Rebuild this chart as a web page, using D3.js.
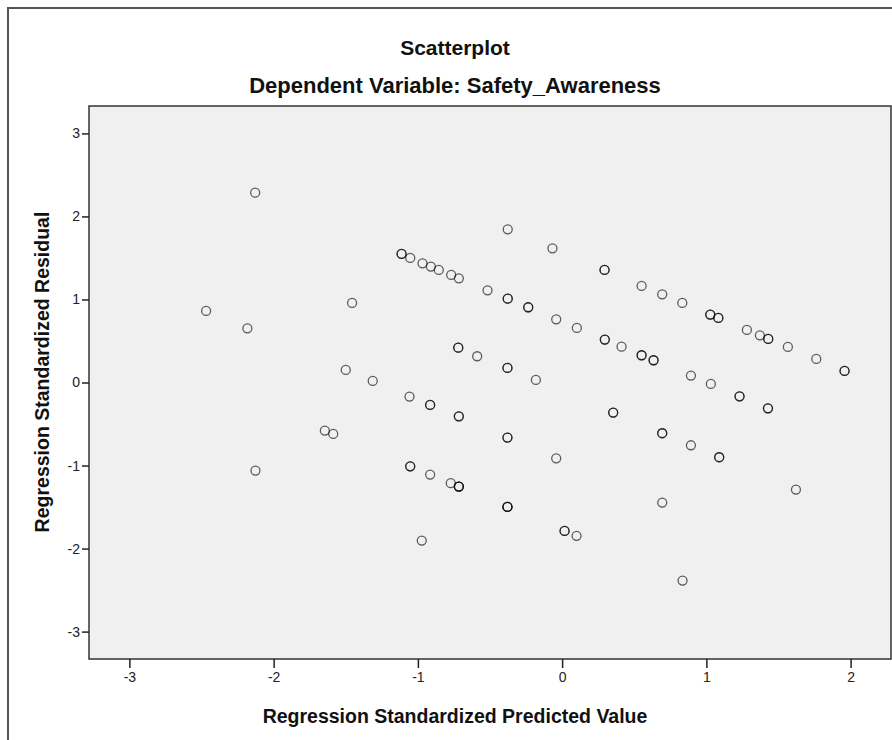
<!DOCTYPE html>
<html>
<head>
<meta charset="utf-8">
<script src="https://cdn.jsdelivr.net/npm/d3@7"></script>
<style>
  body { margin: 0; background: #fff; }
  svg { display: block; font-family: "Liberation Sans", Arial, sans-serif; }
  .tick text { font-size: 14px; fill: #222; }
  .tick line { stroke: #222; stroke-width: 1.5; }
  .domain { display: none; }
  .pt { fill: none; stroke: #000; stroke-opacity: 0.62; stroke-width: 1.3; }
</style>
</head>
<body>
<script>
// standardized predicted value / residual per case, caseCount = overlapping cases
const predicted = [-2.468, -2.128, -2.182, -2.126, -1.456, -1.500, -1.313, -1.645, -1.587,
  -1.113, -1.053, -0.968, -0.910, -0.855, -0.769, -0.716, -1.058, -0.915, -0.716, -0.720,
  -0.589, -1.053, -0.915, -0.772, -0.716, -0.973, -0.517, -0.377, -0.377, -0.235, -0.379,
  -0.379, -0.379, -0.182, -0.067, -0.041, -0.041, 0.102, 0.017, 0.100, 0.294, 0.296,
  0.412, 0.551, 0.634, 0.354, 0.551, 0.694, 0.833, 1.027, 1.083, 1.281, 1.371, 1.429,
  1.565, 1.762, 1.958, 0.893, 1.031, 1.230, 1.427, 0.694, 0.893, 1.089, 1.621, 0.694, 0.835];
const residual = [0.862, 2.286, 0.653, -1.061, 0.958, 0.152, 0.019, -0.579, -0.619,
  1.549, 1.500, 1.435, 1.396, 1.356, 1.296, 1.255, -0.170, -0.270, -0.407, 0.420,
  0.316, -1.009, -1.109, -1.213, -1.253, -1.904, 1.110, 1.845, 1.010, 0.906, 0.176,
  -0.663, -1.498, 0.031, 1.616, 0.761, -0.913, 0.657, -1.787, -1.847, 1.356, 0.517,
  0.432, 0.328, 0.268, -0.362, 1.163, 1.062, 0.958, 0.818, 0.778, 0.633, 0.568, 0.525,
  0.428, 0.284, 0.140, 0.083, -0.017, -0.166, -0.311, -0.611, -0.756, -0.900, -1.290, -1.446, -2.385];
const caseCount = [1, 1, 1, 1, 1, 1, 1, 1, 1,
  2, 1, 1, 1, 1, 1, 1, 1, 2, 2, 2,
  1, 2, 1, 1, 3, 1, 1, 1, 2, 2, 2,
  2, 3, 1, 1, 1, 1, 1, 2, 1, 2, 2,
  1, 2, 2, 2, 1, 1, 1, 2, 2, 1, 1, 2,
  1, 1, 2, 1, 1, 2, 2, 2, 1, 2, 1, 1, 1];

const xTicks = [-3, -2, -1, 0, 1, 2];
const yTicks = [-3, -2, -1, 0, 1, 2, 3];

const title = "Scatterplot";
const subtitle = "Dependent Variable: Safety_Awareness";
const xTitle = "Regression Standardized Predicted Value";
const yTitle = "Regression Standardized Residual";

const W = 892, H = 740;
const plot = { left: 89, right: 891, top: 106, bottom: 659 };

const svg = d3.select("body").append("svg")
  .attr("width", W)
  .attr("height", H);

// outer chart frame (cut off at right/bottom)
svg.append("rect")
  .attr("x", 8).attr("y", 8)
  .attr("width", W + 20).attr("height", H + 20)
  .attr("fill", "#fff")
  .attr("stroke", "#555")
  .attr("stroke-width", 2);

const x = d3.scaleLinear().domain([-3.28, 2.28]).range([plot.left, plot.right]);
const y = d3.scaleLinear().domain([-3.33, 3.33]).range([plot.bottom, plot.top]);

svg.append("rect")
  .attr("x", plot.left).attr("y", plot.top)
  .attr("width", plot.right - plot.left)
  .attr("height", plot.bottom - plot.top)
  .attr("fill", "#f0f0f0")
  .attr("stroke", "#333")
  .attr("stroke-width", 1.5);

svg.append("g")
  .attr("transform", "translate(0," + plot.bottom + ")")
  .call(d3.axisBottom(x).tickValues(xTicks).tickSize(9).tickPadding(4).tickFormat(d => String(d)));

svg.append("g")
  .attr("transform", "translate(" + plot.left + ",0)")
  .call(d3.axisLeft(y).tickValues(yTicks).tickSize(7).tickPadding(2).tickFormat(d => String(d)));

// one entry per case, overlapping cases drawn on top of each other
const points = predicted.flatMap((p, i) =>
  d3.range(caseCount[i]).map(() => ({ p: p, r: residual[i] })));

svg.append("g")
  .selectAll("circle")
  .data(points)
  .enter()
  .append("circle")
  .attr("class", "pt")
  .attr("cx", d => x(d.p))
  .attr("cy", d => y(d.r))
  .attr("r", 4.5);

const cx = 455;

svg.append("text")
  .attr("x", cx).attr("y", 55)
  .attr("text-anchor", "middle")
  .attr("font-size", 21).attr("font-weight", "bold")
  .attr("fill", "#111")
  .text(title);

svg.append("text")
  .attr("x", cx).attr("y", 93)
  .attr("text-anchor", "middle")
  .attr("font-size", 22).attr("font-weight", "bold")
  .attr("fill", "#111")
  .text(subtitle);

svg.append("text")
  .attr("x", cx).attr("y", 723)
  .attr("text-anchor", "middle")
  .attr("font-size", 19.5).attr("font-weight", "bold")
  .attr("fill", "#111")
  .text(xTitle);

svg.append("text")
  .attr("transform", "translate(49," + 372 + ") rotate(-90)")
  .attr("text-anchor", "middle")
  .attr("font-size", 19.5).attr("font-weight", "bold")
  .attr("fill", "#111")
  .text(yTitle);
</script>
</body>
</html>
